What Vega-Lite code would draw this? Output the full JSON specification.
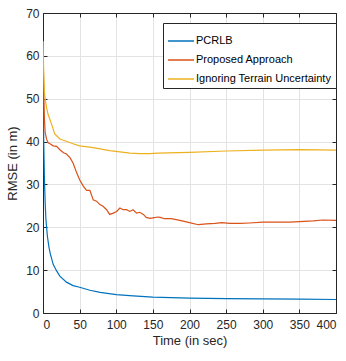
{
  "$schema": "https://vega.github.io/schema/vega-lite/v6.json",
  "width": 293,
  "height": 300,
  "autosize": "none",
  "padding": {"left": 43, "top": 13, "right": 10, "bottom": 48},
  "background": "white",
  "config": {
    "view": {"stroke": null},
    "font": "Liberation Sans",
    "axis": {
      "labelFont": "Liberation Sans",
      "titleFont": "Liberation Sans",
      "labelFontSize": 12,
      "titleFontSize": 13,
      "titleFontWeight": "normal",
      "labelColor": "#262626",
      "titleColor": "#262626",
      "domainColor": "#262626",
      "domainWidth": 1,
      "tickColor": "#262626",
      "tickSize": -4,
      "gridColor": "#e3e3e3",
      "gridWidth": 1
    },
    "legend": {
      "labelFont": "Liberation Sans",
      "labelFontSize": 11,
      "labelColor": "#000000"
    }
  },
  "data": {
    "values": [
      {"t": 0, "v": 55, "s": "PCRLB"},
      {"t": 1, "v": 40, "s": "PCRLB"},
      {"t": 2, "v": 31, "s": "PCRLB"},
      {"t": 3, "v": 25.5, "s": "PCRLB"},
      {"t": 4, "v": 21.8, "s": "PCRLB"},
      {"t": 6, "v": 17.9, "s": "PCRLB"},
      {"t": 8, "v": 15.5, "s": "PCRLB"},
      {"t": 10, "v": 13.8, "s": "PCRLB"},
      {"t": 14, "v": 11.3, "s": "PCRLB"},
      {"t": 19, "v": 9.7, "s": "PCRLB"},
      {"t": 23, "v": 8.6, "s": "PCRLB"},
      {"t": 32, "v": 7.2, "s": "PCRLB"},
      {"t": 41, "v": 6.4, "s": "PCRLB"},
      {"t": 50, "v": 6.0, "s": "PCRLB"},
      {"t": 64, "v": 5.3, "s": "PCRLB"},
      {"t": 78, "v": 4.8, "s": "PCRLB"},
      {"t": 100, "v": 4.3, "s": "PCRLB"},
      {"t": 123, "v": 4.0, "s": "PCRLB"},
      {"t": 150, "v": 3.7, "s": "PCRLB"},
      {"t": 200, "v": 3.45, "s": "PCRLB"},
      {"t": 250, "v": 3.35, "s": "PCRLB"},
      {"t": 300, "v": 3.3, "s": "PCRLB"},
      {"t": 350, "v": 3.22, "s": "PCRLB"},
      {"t": 400, "v": 3.15, "s": "PCRLB"},

      {"t": 0, "v": 63.4, "s": "Proposed Approach"},
      {"t": 1, "v": 52, "s": "Proposed Approach"},
      {"t": 2, "v": 45, "s": "Proposed Approach"},
      {"t": 3, "v": 42, "s": "Proposed Approach"},
      {"t": 5, "v": 40.5, "s": "Proposed Approach"},
      {"t": 7, "v": 39.7, "s": "Proposed Approach"},
      {"t": 9.5, "v": 39.5, "s": "Proposed Approach"},
      {"t": 14, "v": 39, "s": "Proposed Approach"},
      {"t": 18.6, "v": 38.9, "s": "Proposed Approach"},
      {"t": 23, "v": 38.1, "s": "Proposed Approach"},
      {"t": 28, "v": 37.4, "s": "Proposed Approach"},
      {"t": 32, "v": 37.1, "s": "Proposed Approach"},
      {"t": 37, "v": 36.2, "s": "Proposed Approach"},
      {"t": 41, "v": 35, "s": "Proposed Approach"},
      {"t": 46, "v": 32.7, "s": "Proposed Approach"},
      {"t": 50, "v": 31.1, "s": "Proposed Approach"},
      {"t": 55, "v": 29.6, "s": "Proposed Approach"},
      {"t": 59.5, "v": 28.6, "s": "Proposed Approach"},
      {"t": 64, "v": 28.6, "s": "Proposed Approach"},
      {"t": 68.6, "v": 26.4, "s": "Proposed Approach"},
      {"t": 73, "v": 26.1, "s": "Proposed Approach"},
      {"t": 77.7, "v": 25.3, "s": "Proposed Approach"},
      {"t": 82, "v": 24.9, "s": "Proposed Approach"},
      {"t": 86.8, "v": 24.1, "s": "Proposed Approach"},
      {"t": 91, "v": 23, "s": "Proposed Approach"},
      {"t": 96, "v": 23.3, "s": "Proposed Approach"},
      {"t": 100.5, "v": 23.7, "s": "Proposed Approach"},
      {"t": 105, "v": 24.5, "s": "Proposed Approach"},
      {"t": 109.5, "v": 24.1, "s": "Proposed Approach"},
      {"t": 114, "v": 24.1, "s": "Proposed Approach"},
      {"t": 118.6, "v": 23.7, "s": "Proposed Approach"},
      {"t": 123, "v": 24.1, "s": "Proposed Approach"},
      {"t": 127.7, "v": 23.3, "s": "Proposed Approach"},
      {"t": 132, "v": 23.5, "s": "Proposed Approach"},
      {"t": 137, "v": 23, "s": "Proposed Approach"},
      {"t": 141, "v": 22.3, "s": "Proposed Approach"},
      {"t": 146, "v": 22.1, "s": "Proposed Approach"},
      {"t": 150, "v": 22.2, "s": "Proposed Approach"},
      {"t": 157, "v": 22.4, "s": "Proposed Approach"},
      {"t": 160, "v": 22.3, "s": "Proposed Approach"},
      {"t": 166, "v": 22, "s": "Proposed Approach"},
      {"t": 175, "v": 22, "s": "Proposed Approach"},
      {"t": 187, "v": 21.6, "s": "Proposed Approach"},
      {"t": 200, "v": 21.1, "s": "Proposed Approach"},
      {"t": 212, "v": 20.6, "s": "Proposed Approach"},
      {"t": 223, "v": 20.8, "s": "Proposed Approach"},
      {"t": 235, "v": 20.9, "s": "Proposed Approach"},
      {"t": 244, "v": 21.1, "s": "Proposed Approach"},
      {"t": 255, "v": 20.9, "s": "Proposed Approach"},
      {"t": 269, "v": 20.9, "s": "Proposed Approach"},
      {"t": 282, "v": 21.0, "s": "Proposed Approach"},
      {"t": 300, "v": 21.2, "s": "Proposed Approach"},
      {"t": 318, "v": 21.2, "s": "Proposed Approach"},
      {"t": 337, "v": 21.2, "s": "Proposed Approach"},
      {"t": 350, "v": 21.3, "s": "Proposed Approach"},
      {"t": 369, "v": 21.5, "s": "Proposed Approach"},
      {"t": 382, "v": 21.7, "s": "Proposed Approach"},
      {"t": 400, "v": 21.6, "s": "Proposed Approach"},

      {"t": 0, "v": 63.4, "s": "Ignoring Terrain Uncertainty"},
      {"t": 1, "v": 56, "s": "Ignoring Terrain Uncertainty"},
      {"t": 2, "v": 51.5, "s": "Ignoring Terrain Uncertainty"},
      {"t": 3, "v": 49.8, "s": "Ignoring Terrain Uncertainty"},
      {"t": 5, "v": 47.8, "s": "Ignoring Terrain Uncertainty"},
      {"t": 7, "v": 46.3, "s": "Ignoring Terrain Uncertainty"},
      {"t": 12, "v": 43.9, "s": "Ignoring Terrain Uncertainty"},
      {"t": 16, "v": 41.8, "s": "Ignoring Terrain Uncertainty"},
      {"t": 23, "v": 40.6, "s": "Ignoring Terrain Uncertainty"},
      {"t": 28, "v": 40.3, "s": "Ignoring Terrain Uncertainty"},
      {"t": 41, "v": 39.5, "s": "Ignoring Terrain Uncertainty"},
      {"t": 50, "v": 39.0, "s": "Ignoring Terrain Uncertainty"},
      {"t": 64, "v": 38.7, "s": "Ignoring Terrain Uncertainty"},
      {"t": 78, "v": 38.3, "s": "Ignoring Terrain Uncertainty"},
      {"t": 91, "v": 37.9, "s": "Ignoring Terrain Uncertainty"},
      {"t": 105, "v": 37.6, "s": "Ignoring Terrain Uncertainty"},
      {"t": 119, "v": 37.3, "s": "Ignoring Terrain Uncertainty"},
      {"t": 132, "v": 37.2, "s": "Ignoring Terrain Uncertainty"},
      {"t": 146, "v": 37.2, "s": "Ignoring Terrain Uncertainty"},
      {"t": 157, "v": 37.3, "s": "Ignoring Terrain Uncertainty"},
      {"t": 200, "v": 37.5, "s": "Ignoring Terrain Uncertainty"},
      {"t": 250, "v": 37.8, "s": "Ignoring Terrain Uncertainty"},
      {"t": 300, "v": 38.0, "s": "Ignoring Terrain Uncertainty"},
      {"t": 350, "v": 38.1, "s": "Ignoring Terrain Uncertainty"},
      {"t": 400, "v": 38.0, "s": "Ignoring Terrain Uncertainty"}
    ]
  },
  "layer": [
    {
      "mark": {"type": "line", "strokeWidth": 1.2, "clip": true},
      "encoding": {
        "x": {
          "field": "t", "type": "quantitative",
          "scale": {"domain": [0, 400], "nice": false},
          "axis": {"values": [0, 50, 100, 150, 200, 250, 300, 350, 400], "title": "Time (in sec)", "labelPadding": 10, "titlePadding": 4}
        },
        "y": {
          "field": "v", "type": "quantitative",
          "scale": {"domain": [0, 70], "nice": false},
          "axis": {"values": [0, 10, 20, 30, 40, 50, 60, 70], "title": "RMSE (in m)", "labelPadding": 8, "titlePadding": 6}
        },
        "color": {
          "field": "s", "type": "nominal",
          "scale": {
            "domain": ["PCRLB", "Proposed Approach", "Ignoring Terrain Uncertainty"],
            "range": ["#0072BD", "#D95319", "#EDB120"]
          },
          "legend": {
            "title": null,
            "orient": "none",
            "legendX": 120,
            "legendY": 10,
            "symbolType": "stroke",
            "symbolSize": 676,
            "symbolStrokeWidth": 1.5,
            "strokeColor": "#262626",
            "fillColor": "white",
            "padding": 4,
            "rowPadding": -5,
            "labelOffset": 1
          }
        }
      }
    },
    {
      "mark": {"type": "line", "opacity": 0},
      "encoding": {
        "x": {
          "field": "t", "type": "quantitative",
          "axis": {"orient": "top", "values": [0, 50, 100, 150, 200, 250, 300, 350, 400], "labels": false, "grid": false, "title": null}
        },
        "y": {
          "field": "v", "type": "quantitative",
          "axis": {"orient": "right", "values": [0, 10, 20, 30, 40, 50, 60, 70], "labels": false, "grid": false, "title": null}
        }
      }
    }
  ],
  "resolve": {"axis": {"x": "independent", "y": "independent"}}
}
